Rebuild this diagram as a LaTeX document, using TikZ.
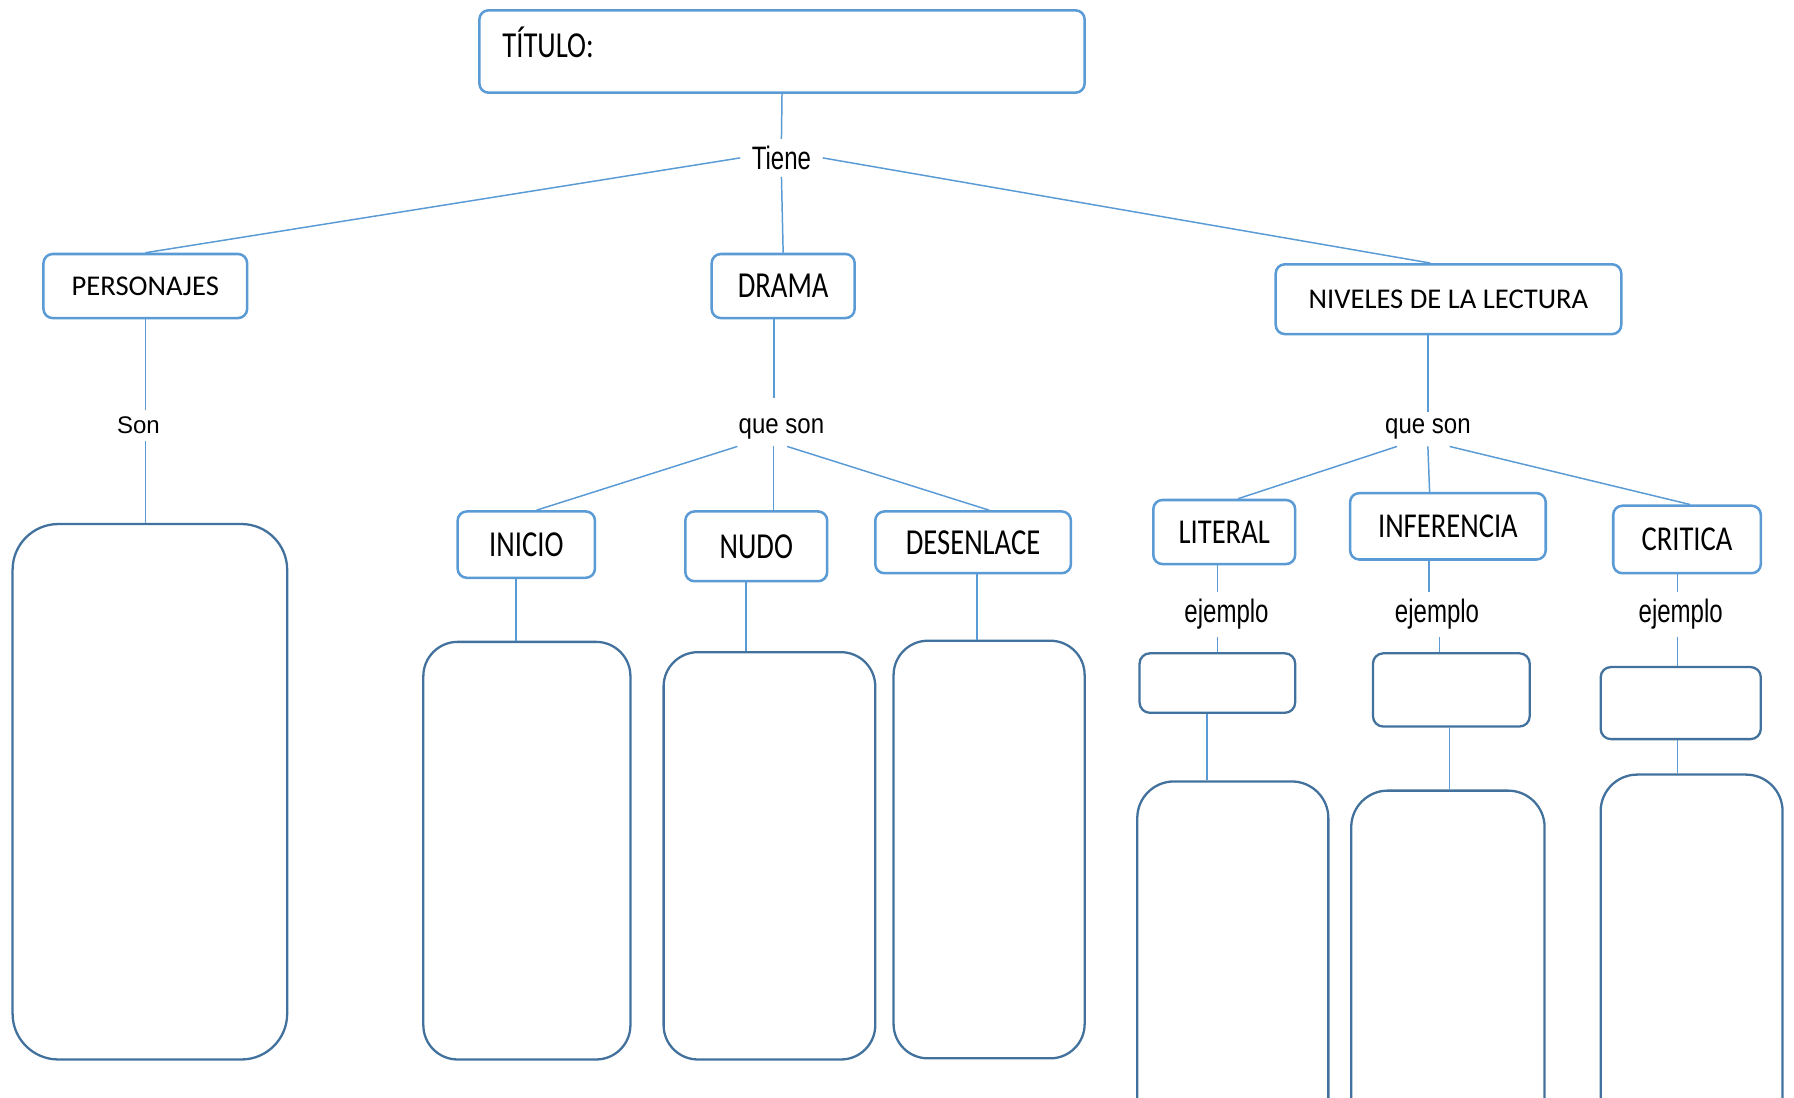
\documentclass[tikz,border=0pt]{standalone}
\usepackage{fontspec}
\newfontfamily\calfont{Carlito}
\newfontfamily\arfont{Liberation Sans}
\usetikzlibrary{positioning}
\definecolor{upblue}{HTML}{5B9BD5}
\definecolor{lowblue}{HTML}{41719C}
\tikzset{
  upbox/.style  ={draw=upblue, line width=2.2pt, rounded corners=8pt,
                  inner sep=0pt, font=\calfont\fontsize{25}{30}\selectfont},
  lowbox/.style ={draw=lowblue, line width=2pt, rounded corners=#1, inner sep=0pt},
  lowbox/.default=9pt,
  lbl/.style    ={font=\arfont\fontsize{21}{25}\selectfont, inner xsep=10pt, inner ysep=6pt},
  ln/.style     ={draw=upblue, line width=1.3pt}
}
\newcommand{\tall}[2][1.28]{\scalebox{1}[#1]{#2}}

\begin{document}
\begin{tikzpicture}[x=1pt, y=-1pt]
  \useasboundingbox (0,0) rectangle (1568,959);
  \clip (0,0) rectangle (1568,959);

  % title and first level
  \node[upbox, minimum width=529pt, minimum height=72pt] (titulo) at (683.5,45) {};
  \node[font=\calfont\fontsize{25}{30}\selectfont, anchor=west, inner sep=0pt]
       (titulotxt) at ([xshift=21pt,yshift=8pt]titulo.west) {\tall{TÍTULO:}};
  \node[lbl] (tiene) at (683,138) {\tall[1.35]{Tiene}};

  \node[upbox, minimum width=178pt, minimum height=56pt] (pers)    at (127,250)    {PERSONAJES};
  \node[upbox, minimum width=125pt, minimum height=56pt] (drama)   at (684.5,250)  {\tall{DRAMA}};
  \node[upbox, minimum width=302pt, minimum height=61pt] (niveles) at (1266,261.5) {NIVELES DE LA LECTURA};

  % personajes
  \node[lbl] (son) at (121,372) {Son};
  \node[lowbox=40pt, minimum width=240pt, minimum height=468pt] (bpers) at (131,692) {};

  % drama
  \node[lbl] (qsdrama) at (683,375) {\tall[1.15]{que son}};
  \node[upbox, minimum width=120pt, minimum height=58pt] (inicio)    at (460,476)   {\tall{INICIO}};
  \node[upbox, minimum width=124pt, minimum height=61pt] (nudo)      at (661,477.5) {\tall{NUDO}};
  \node[upbox, minimum width=171pt, minimum height=54pt] (desenlace) at (850.5,474) {\tall{DESENLACE}};
  \node[lowbox=30pt, minimum width=181pt, minimum height=365pt] (binicio) at (460.5,743.5) {};
  \node[lowbox=30pt, minimum width=185pt, minimum height=356pt] (bnudo)   at (672.5,748)   {};
  \node[lowbox=30pt, minimum width=167pt, minimum height=365pt] (bdes)    at (864.5,742.5) {};

  % niveles de la lectura
  \node[lbl] (qsniv) at (1248,375) {\tall[1.15]{que son}};
  \node[upbox, minimum width=124pt, minimum height=56pt] (literal)    at (1070,465)     {\tall[1.22]{LITERAL}};
  \node[upbox, minimum width=171pt, minimum height=58pt] (inferencia) at (1265.5,460)   {\tall[1.22]{INFERENCIA}};
  \node[upbox, minimum width=129pt, minimum height=59pt] (critica)    at (1474.5,471.5) {\tall[1.22]{CRITICA}};
  \node[lbl] (ejlit)  at (1072,537) {\tall[1.35]{ejemplo}};
  \node[lbl] (ejinf)  at (1256,537) {\tall[1.35]{ejemplo}};
  \node[lbl] (ejcrit) at (1469,537) {\tall[1.35]{ejemplo}};
  \node[lowbox, minimum width=136pt, minimum height=52pt] (exlit)  at (1064,597)    {};
  \node[lowbox, minimum width=137pt, minimum height=64pt] (exinf)  at (1268.5,603)  {};
  \node[lowbox, minimum width=140pt, minimum height=63pt] (excrit) at (1469,614.5)  {};
  \node[lowbox=32pt, minimum width=167pt, minimum height=317pt] (blit)  at (1077.5,841.5) {};
  \node[lowbox=32pt, minimum width=169pt, minimum height=309pt] (binf)  at (1265.5,845.5) {};
  \node[lowbox=32pt, minimum width=159pt, minimum height=323pt] (bcrit) at (1478.5,838.5) {};

  % connectors
  \draw[ln] (titulo.south) -- (tiene.north);
  \draw[ln] (tiene.west) -- (pers.north);
  \draw[ln] (tiene.south) -- (drama.north);
  \draw[ln] (tiene.east) -- ([xshift=-16pt]niveles.north);

  \draw[ln] (pers.south) -- (pers.south |- son.north);
  \draw[ln] (pers.south |- son.south) -- (pers.south |- bpers.north);

  \draw[ln] ([xshift=-8pt]drama.south) -- ([xshift=-8pt,yshift=12pt]drama.south |- qsdrama.north);
  \draw[ln] ([xshift=9pt]qsdrama.south west) -- ([xshift=9pt]inicio.north);
  \draw[ln] ([xshift=-7pt]qsdrama.south) -- ([xshift=-7pt]qsdrama.south |- nudo.north);
  \draw[ln] ([xshift=5pt]qsdrama.south) -- ([xshift=14pt]desenlace.north);
  \draw[ln] ([xshift=-9pt]inicio.south) -- ([xshift=-9pt]inicio.south |- binicio.north);
  \draw[ln] ([xshift=-9pt]nudo.south) -- ([xshift=-9pt]nudo.south |- bnudo.north);
  \draw[ln] ([xshift=3.5pt]desenlace.south) -- ([xshift=3.5pt]desenlace.south |- bdes.north);

  \draw[ln] ([xshift=-18pt]niveles.south) -- ([xshift=-18pt]niveles.south |- qsniv.north);
  \draw[ln] ([xshift=-27pt]qsniv.south) -- ([xshift=12pt]literal.north);
  \draw[ln] (qsniv.south) -- ([xshift=-16pt]inferencia.north);
  \draw[ln] ([xshift=19pt]qsniv.south) -- ([xshift=2.5pt]critica.north);

  \draw[ln] ([xshift=-6pt]literal.south) -- ([xshift=-6pt]literal.south |- ejlit.north);
  \draw[ln] ([xshift=-8pt]ejlit.south) -- ([xshift=-8pt]ejlit.south |- exlit.north);
  \draw[ln] ([xshift=-16.5pt]inferencia.south) -- ([xshift=-16.5pt]inferencia.south |- ejinf.north);
  \draw[ln] ([xshift=2pt]ejinf.south) -- ([xshift=2pt]ejinf.south |- exinf.north);
  \draw[ln] ([xshift=-8.5pt]critica.south) -- ([xshift=-8.5pt]critica.south |- ejcrit.north);
  \draw[ln] ([xshift=-3pt]ejcrit.south) -- ([xshift=-3pt]ejcrit.south |- excrit.north);

  \draw[ln] ([xshift=-9pt]exlit.south) -- ([xshift=-9pt]exlit.south |- blit.north);
  \draw[ln] ([xshift=-1.5pt]exinf.south) -- ([xshift=-1.5pt]exinf.south |- binf.north);
  \draw[ln] ([xshift=-3pt]excrit.south) -- ([xshift=-3pt]excrit.south |- bcrit.north);
\end{tikzpicture}
\end{document}
